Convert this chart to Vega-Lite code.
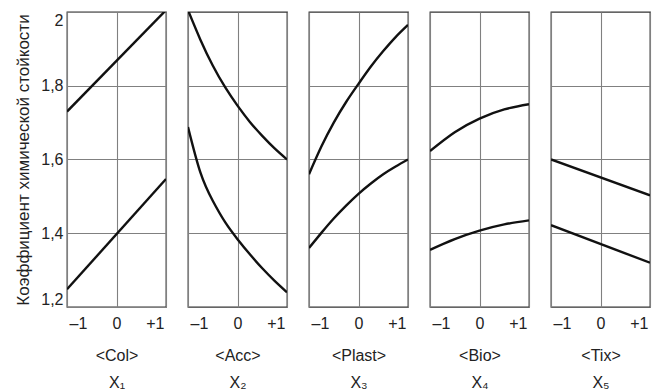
{
  "$schema": "https://vega.github.io/schema/vega-lite/v6.json",
  "padding": {"left": 14, "top": 11, "right": 5, "bottom": 0},
  "background": "white",
  "datasets": {
    "pts": [
      {"panel": "Col", "curve": "a", "x": -1, "y": 1.73},
      {"panel": "Col", "curve": "a", "x": 1, "y": 2.005},
      {"panel": "Col", "curve": "b", "x": -1, "y": 1.248},
      {"panel": "Col", "curve": "b", "x": 1, "y": 1.547},

      {"panel": "Acc", "curve": "a", "x": -1, "y": 2.005},
      {"panel": "Acc", "curve": "a", "x": -0.75, "y": 1.925},
      {"panel": "Acc", "curve": "a", "x": -0.5, "y": 1.855},
      {"panel": "Acc", "curve": "a", "x": -0.25, "y": 1.796},
      {"panel": "Acc", "curve": "a", "x": 0, "y": 1.746},
      {"panel": "Acc", "curve": "a", "x": 0.25, "y": 1.702},
      {"panel": "Acc", "curve": "a", "x": 0.5, "y": 1.664},
      {"panel": "Acc", "curve": "a", "x": 0.75, "y": 1.63},
      {"panel": "Acc", "curve": "a", "x": 1, "y": 1.6},
      {"panel": "Acc", "curve": "b", "x": -1, "y": 1.688},
      {"panel": "Acc", "curve": "b", "x": -0.75, "y": 1.565},
      {"panel": "Acc", "curve": "b", "x": -0.5, "y": 1.488},
      {"panel": "Acc", "curve": "b", "x": -0.25, "y": 1.43},
      {"panel": "Acc", "curve": "b", "x": 0, "y": 1.384},
      {"panel": "Acc", "curve": "b", "x": 0.25, "y": 1.343},
      {"panel": "Acc", "curve": "b", "x": 0.5, "y": 1.305},
      {"panel": "Acc", "curve": "b", "x": 0.75, "y": 1.271},
      {"panel": "Acc", "curve": "b", "x": 1, "y": 1.24},

      {"panel": "Plast", "curve": "a", "x": -1, "y": 1.56},
      {"panel": "Plast", "curve": "a", "x": -0.75, "y": 1.635},
      {"panel": "Plast", "curve": "a", "x": -0.5, "y": 1.7},
      {"panel": "Plast", "curve": "a", "x": -0.25, "y": 1.756},
      {"panel": "Plast", "curve": "a", "x": 0, "y": 1.805},
      {"panel": "Plast", "curve": "a", "x": 0.25, "y": 1.852},
      {"panel": "Plast", "curve": "a", "x": 0.5, "y": 1.894},
      {"panel": "Plast", "curve": "a", "x": 0.75, "y": 1.932},
      {"panel": "Plast", "curve": "a", "x": 1, "y": 1.965},
      {"panel": "Plast", "curve": "b", "x": -1, "y": 1.36},
      {"panel": "Plast", "curve": "b", "x": -0.75, "y": 1.401},
      {"panel": "Plast", "curve": "b", "x": -0.5, "y": 1.44},
      {"panel": "Plast", "curve": "b", "x": -0.25, "y": 1.475},
      {"panel": "Plast", "curve": "b", "x": 0, "y": 1.507},
      {"panel": "Plast", "curve": "b", "x": 0.25, "y": 1.535},
      {"panel": "Plast", "curve": "b", "x": 0.5, "y": 1.56},
      {"panel": "Plast", "curve": "b", "x": 0.75, "y": 1.581},
      {"panel": "Plast", "curve": "b", "x": 1, "y": 1.6},

      {"panel": "Bio", "curve": "a", "x": -1, "y": 1.623},
      {"panel": "Bio", "curve": "a", "x": -0.5, "y": 1.674},
      {"panel": "Bio", "curve": "a", "x": 0, "y": 1.711},
      {"panel": "Bio", "curve": "a", "x": 0.5, "y": 1.736},
      {"panel": "Bio", "curve": "a", "x": 1, "y": 1.75},
      {"panel": "Bio", "curve": "b", "x": -1, "y": 1.355},
      {"panel": "Bio", "curve": "b", "x": -0.5, "y": 1.384},
      {"panel": "Bio", "curve": "b", "x": 0, "y": 1.407},
      {"panel": "Bio", "curve": "b", "x": 0.5, "y": 1.424},
      {"panel": "Bio", "curve": "b", "x": 1, "y": 1.435},

      {"panel": "Tix", "curve": "a", "x": -1, "y": 1.6},
      {"panel": "Tix", "curve": "a", "x": 1, "y": 1.503},
      {"panel": "Tix", "curve": "b", "x": -1, "y": 1.422},
      {"panel": "Tix", "curve": "b", "x": 1, "y": 1.32}
    ]
  },
  "spacing": 20,
  "hconcat": [
    {
      "width": 99, "height": 295,
      "data": {"name": "pts"},
      "transform": [{"filter": "datum.panel == 'Col'"}],
      "mark": {"type": "line", "color": "#111", "strokeWidth": 2.4, "interpolate": "natural", "clip": true},
      "encoding": {
        "x": {"field": "x", "type": "quantitative", "scale": {"domain": [-1, 1], "nice": false, "zero": false}, "axis": {"values": [-1, 0, 1], "title": ["<Col>", "X₁"]}},
        "y": {"field": "y", "type": "quantitative", "scale": {"domain": [1.2, 2], "nice": false, "zero": false},
          "axis": {"values": [1.2, 1.4, 1.6, 1.8, 2.0], "labels": true, "labelFlush": true, "labelPadding": 4,
            "labelExpr": "datum.value == 2 ? '2' : replace(format(datum.value, '.1f'), '.', ',')",
            "title": "Коэффициент химической стойкости", "titleFontSize": 17, "titleFontWeight": "normal", "titlePadding": 8, "titleColor": "#222"}},
        "detail": {"field": "curve"}
      }
    },
    {
      "width": 99, "height": 295,
      "data": {"name": "pts"},
      "transform": [{"filter": "datum.panel == 'Acc'"}],
      "mark": {"type": "line", "color": "#111", "strokeWidth": 2.4, "interpolate": "natural", "clip": true},
      "encoding": {
        "x": {"field": "x", "type": "quantitative", "scale": {"domain": [-1, 1], "nice": false, "zero": false}, "axis": {"values": [-1, 0, 1], "title": ["<Acc>", "X₂"]}},
        "y": {"field": "y", "type": "quantitative", "scale": {"domain": [1.2, 2], "nice": false, "zero": false}, "axis": {"values": [1.4, 1.6, 1.8], "labels": false, "title": null, "minExtent": 0, "maxExtent": 0, "labelPadding": 0}},
        "detail": {"field": "curve"}
      }
    },
    {
      "width": 99, "height": 295,
      "data": {"name": "pts"},
      "transform": [{"filter": "datum.panel == 'Plast'"}],
      "mark": {"type": "line", "color": "#111", "strokeWidth": 2.4, "interpolate": "natural", "clip": true},
      "encoding": {
        "x": {"field": "x", "type": "quantitative", "scale": {"domain": [-1, 1], "nice": false, "zero": false}, "axis": {"values": [-1, 0, 1], "title": ["<Plast>", "X₃"]}},
        "y": {"field": "y", "type": "quantitative", "scale": {"domain": [1.2, 2], "nice": false, "zero": false}, "axis": {"values": [1.4, 1.6, 1.8], "labels": false, "title": null, "minExtent": 0, "maxExtent": 0, "labelPadding": 0}},
        "detail": {"field": "curve"}
      }
    },
    {
      "width": 99, "height": 295,
      "data": {"name": "pts"},
      "transform": [{"filter": "datum.panel == 'Bio'"}],
      "mark": {"type": "line", "color": "#111", "strokeWidth": 2.4, "interpolate": "natural", "clip": true},
      "encoding": {
        "x": {"field": "x", "type": "quantitative", "scale": {"domain": [-1, 1], "nice": false, "zero": false}, "axis": {"values": [-1, 0, 1], "title": ["<Bio>", "X₄"]}},
        "y": {"field": "y", "type": "quantitative", "scale": {"domain": [1.2, 2], "nice": false, "zero": false}, "axis": {"values": [1.4, 1.6, 1.8], "labels": false, "title": null, "minExtent": 0, "maxExtent": 0, "labelPadding": 0}},
        "detail": {"field": "curve"}
      }
    },
    {
      "width": 99, "height": 295,
      "data": {"name": "pts"},
      "transform": [{"filter": "datum.panel == 'Tix'"}],
      "mark": {"type": "line", "color": "#111", "strokeWidth": 2.4, "interpolate": "natural", "clip": true},
      "encoding": {
        "x": {"field": "x", "type": "quantitative", "scale": {"domain": [-1, 1], "nice": false, "zero": false}, "axis": {"values": [-1, 0, 1], "title": ["<Tix>", "X₅"]}},
        "y": {"field": "y", "type": "quantitative", "scale": {"domain": [1.2, 2], "nice": false, "zero": false}, "axis": {"values": [1.4, 1.6, 1.8], "labels": false, "title": null, "minExtent": 0, "maxExtent": 0, "labelPadding": 0}},
        "detail": {"field": "curve"}
      }
    }
  ],
  "config": {
    "font": "Liberation Sans",
    "view": {"stroke": "#333", "strokeWidth": 1.3},
    "axis": {
      "domain": false, "ticks": false, "grid": true, "gridColor": "#808080", "gridWidth": 1.1, "gridOpacity": 1,
      "labelFontSize": 16, "labelColor": "#222", "labelFont": "Liberation Sans"
    },
    "axisX": {
      "labelExpr": "datum.value == 0 ? '0' : (datum.value > 0 ? '+1' : '–1')",
      "labelFlush": true, "labelFlushOffset": -2, "labelPadding": 8,
      "titleFontSize": 16, "titleFontWeight": "normal", "titleColor": "#222", "titlePadding": 16, "titleLineHeight": 27
    }
  }
}
